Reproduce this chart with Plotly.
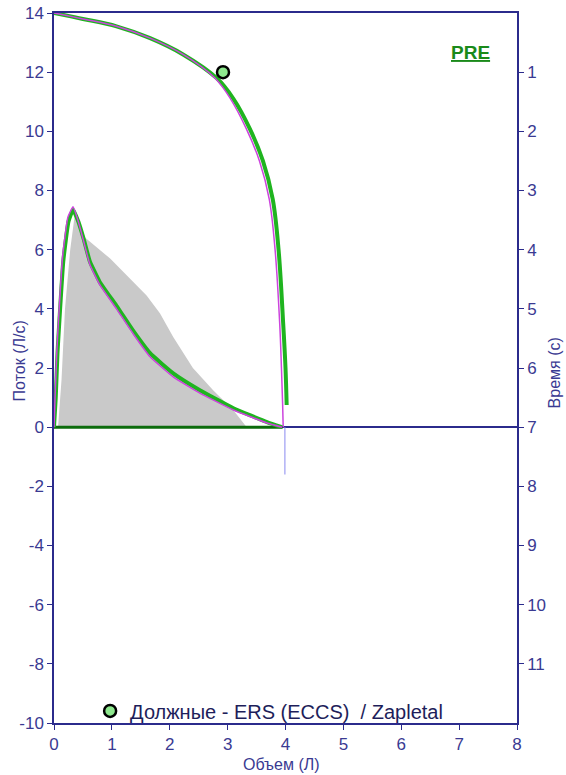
import plotly.graph_objects as go

# Predicted (upper) curve - green
pred_vol = [0.0, 0.5, 1.08, 1.66, 2.23, 2.81, 3.1, 3.38, 3.61, 3.78, 3.88, 3.96, 4.0, 4.02]
pred_flow = [14.0, 13.8, 13.55, 13.15, 12.6, 11.8, 11.1, 10.1, 9.0, 7.7, 6.0, 3.5, 2.0, 0.75]
# Predicted (upper) curve - magenta
pred2_vol = [0.0, 0.5, 1.08, 1.66, 2.23, 2.78, 3.05, 3.32, 3.55, 3.72, 3.82, 3.9, 3.93, 3.95, 3.96]
pred2_flow = [14.0, 13.8, 13.55, 13.15, 12.6, 11.8, 11.1, 10.1, 9.0, 7.7, 6.0, 3.5, 2.0, 0.8, 0.0]
# Measured curve - green
meas_vol = [0.0, 0.03, 0.06, 0.09, 0.16, 0.25, 0.33, 0.42, 0.51, 0.62, 0.79, 1.08, 1.37, 1.66, 2.06, 2.52, 3.1, 3.68, 3.94]
meas_flow = [0.0, 1.0, 2.5, 3.5, 5.6, 6.95, 7.35, 6.95, 6.38, 5.6, 4.91, 4.1, 3.25, 2.5, 1.82, 1.25, 0.64, 0.17, 0.0]
# Measured curve - magenta
meas2_vol = [0.0, 0.02, 0.05, 0.08, 0.15, 0.24, 0.33, 0.42, 0.51, 0.62, 0.79, 1.08, 1.37, 1.66, 2.06, 2.52, 3.1, 3.68, 3.94]
meas2_flow = [0.0, 1.1, 2.6, 3.7, 5.8, 7.1, 7.45, 6.95, 6.3, 5.5, 4.82, 4.0, 3.15, 2.38, 1.7, 1.15, 0.58, 0.14, 0.0]
# Grey reference area
grey_vol = [0.07, 0.13, 0.19, 0.28, 0.36, 0.54, 0.97, 1.6, 1.83, 2.06, 2.4, 2.75, 3.1, 3.33]
grey_flow = [0.0, 1.6, 4.0, 6.0, 7.2, 6.4, 5.7, 4.45, 3.85, 3.05, 2.0, 1.25, 0.57, 0.0]
# Zero (inspiratory) line
zero_vol = [0.0, 3.95]
zero_flow = [0.0, 0.0]
# Vertical marker line
vline_vol = [3.99, 3.99]
vline_flow = [0.0, -1.6]
# Predicted PEF point
pef_vol = [2.92]
pef_flow = [12.0]

x_ticks = list(range(0, 9))
y_ticks = list(range(-10, 15, 2))
y_labels = [str(v) for v in y_ticks]
t_ticks = list(range(1, 12))

NAVY = "#2b2b8c"
TXT = "#3a3a92"
GREEN = "#1fb41f"
MAG = "#cc44dd"
FONT = "Arial, Liberation Sans, sans-serif"

fig = go.Figure()
fig.add_trace(go.Scatter(x=grey_vol, y=grey_flow, fill="toself", fillcolor="#c9c9c9",
                         line=dict(width=0), mode="lines", showlegend=False, hoverinfo="skip"))
fig.add_trace(go.Scatter(x=zero_vol, y=zero_flow, mode="lines",
                         line=dict(color="#0b6b0b", width=3), showlegend=False))
fig.add_trace(go.Scatter(x=vline_vol, y=vline_flow, mode="lines",
                         line=dict(color="#8a8af0", width=1), showlegend=False))
fig.add_trace(go.Scatter(x=pred_vol, y=pred_flow, mode="lines", line_shape="spline",
                         line=dict(color=GREEN, width=4), showlegend=False))
fig.add_trace(go.Scatter(x=pred2_vol, y=pred2_flow, mode="lines", line_shape="spline",
                         line=dict(color=MAG, width=1.5), showlegend=False))
fig.add_trace(go.Scatter(x=meas_vol, y=meas_flow, mode="lines", line_shape="spline",
                         line=dict(color=GREEN, width=4, smoothing=0.4), showlegend=False))
fig.add_trace(go.Scatter(x=meas2_vol, y=meas2_flow, mode="lines", line_shape="spline",
                         line=dict(color=MAG, width=1.5, smoothing=0.4), showlegend=False))
fig.add_trace(go.Scatter(x=pef_vol, y=pef_flow, mode="markers",
                         marker=dict(size=12, color="#8ee88e", line=dict(color="black", width=2.5)),
                         name="Должные - ERS (ECCS)  / Zapletal", showlegend=True))
# dummy trace for right axis
fig.add_trace(go.Scatter(x=[None], y=[None], yaxis="y2", showlegend=False))

fig.update_layout(
    width=566, height=775,
    margin=dict(l=54, r=49, t=13, b=52),
    paper_bgcolor="white", plot_bgcolor="white",
    font=dict(family=FONT, color=TXT),
    xaxis=dict(range=[0, 8], tickvals=x_ticks, ticks="outside", ticklen=5, tickcolor=NAVY,
               showline=True, linecolor=NAVY, linewidth=1.5, mirror=True, showgrid=False,
               zeroline=False, tickfont=dict(size=17, color=TXT), automargin=False),
    yaxis=dict(range=[-10, 14], tickvals=y_ticks, ticktext=y_labels, ticks="outside", ticklen=5,
               tickcolor=NAVY, showline=True, linecolor=NAVY, linewidth=1.5, showgrid=False,
               zeroline=True, zerolinecolor=NAVY, zerolinewidth=1.5, automargin=False,
               tickfont=dict(size=17, color=TXT)),
    yaxis2=dict(range=[12, 0], tickvals=t_ticks, overlaying="y", side="right", ticks="outside",
                ticklen=5, tickcolor=NAVY, showline=True, linecolor=NAVY, linewidth=1.5,
                showgrid=False, zeroline=False, tickfont=dict(size=17, color=TXT), automargin=False),
    legend=dict(x=0.078, y=0.017, xanchor="left", yanchor="middle", bgcolor="rgba(0,0,0,0)",
                font=dict(size=20, color="#1e1e5a"), itemsizing="trace"),
    annotations=[
        dict(text="<b><u>PRE</u></b>", x=0.946, y=0.944, xref="paper", yref="paper",
             xanchor="right", yanchor="middle", showarrow=False,
             font=dict(size=19, color="#1a8a1a")),
        dict(text="Поток (Л/с)", x=-0.0745, y=0.51, xref="paper", yref="paper",
             xanchor="center", yanchor="middle", textangle=-90, showarrow=False,
             font=dict(size=16, color=TXT)),
        dict(text="Время (с)", x=1.083, y=0.493, xref="paper", yref="paper",
             xanchor="center", yanchor="middle", textangle=-90, showarrow=False,
             font=dict(size=16, color=TXT)),
        dict(text="Объем (Л)", x=0.4924, y=-0.0585, xref="paper", yref="paper",
             xanchor="center", yanchor="middle", showarrow=False,
             font=dict(size=16, color=TXT)),
    ],
)

fig.write_html("out.html")
